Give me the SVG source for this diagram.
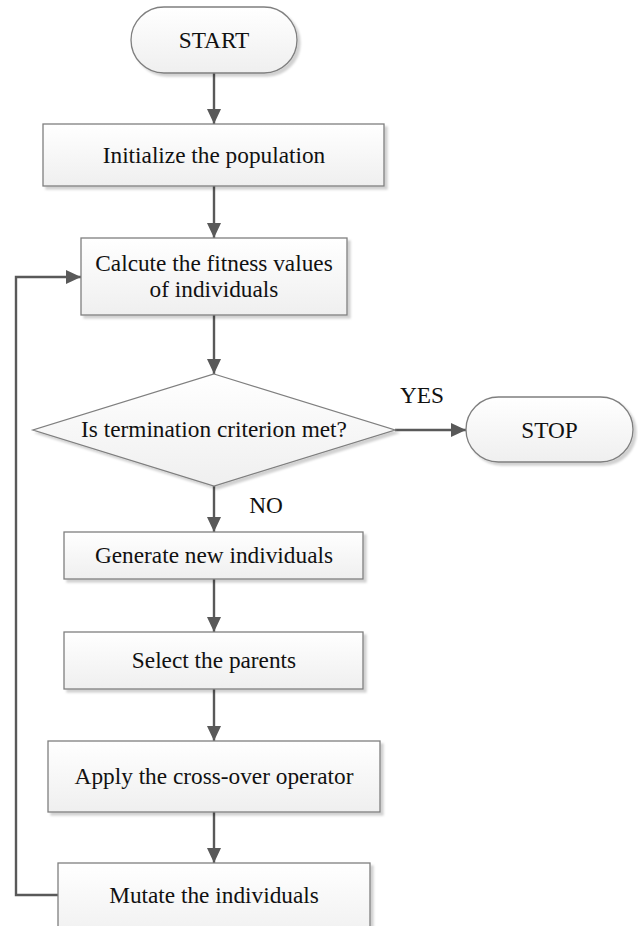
<svg xmlns="http://www.w3.org/2000/svg" width="638" height="926" viewBox="0 0 638 926">
<style>
.shape{fill:url(#g);stroke:#7f7f7f;stroke-width:1.3;filter:url(#sh)}
text{font-family:'Liberation Serif','DejaVu Serif',serif;font-size:23.3px;fill:#111;text-anchor:middle}
.c{fill:none;stroke:#595959;stroke-width:2.4}
</style>
<defs>
<linearGradient id="g" x1="0" y1="0" x2="0" y2="1">
<stop offset="0" stop-color="#ffffff"/>
<stop offset="1" stop-color="#efefef"/>
</linearGradient>
<filter id="sh" x="-10%" y="-10%" width="130%" height="140%">
<feDropShadow dx="3" dy="3" stdDeviation="1.2" flood-color="#000" flood-opacity="0.18"/>
</filter>
<marker id="ah" markerUnits="userSpaceOnUse" markerWidth="16" markerHeight="14" refX="15" refY="7" orient="auto">
<path d="M0,0 L15,7 L0,14 Z" fill="#595959"/>
</marker>
</defs>
<rect width="638" height="926" fill="#ffffff"/>
<g id="connectors">
<line class="c" x1="214" y1="73" x2="214" y2="124" marker-end="url(#ah)"/>
<line class="c" x1="214" y1="186" x2="214" y2="238" marker-end="url(#ah)"/>
<line class="c" x1="214" y1="315" x2="214" y2="374" marker-end="url(#ah)"/>
<line class="c" x1="395" y1="430" x2="466" y2="430" marker-end="url(#ah)"/>
<line class="c" x1="214" y1="486" x2="214" y2="532" marker-end="url(#ah)"/>
<line class="c" x1="214" y1="579" x2="214" y2="632" marker-end="url(#ah)"/>
<line class="c" x1="214" y1="689" x2="214" y2="741" marker-end="url(#ah)"/>
<line class="c" x1="214" y1="812" x2="214" y2="863" marker-end="url(#ah)"/>
<polyline class="c" points="58,895 16,895 16,277 81,277" marker-end="url(#ah)"/>
<text x="422" y="403" font-family="Liberation Serif, serif">YES</text>
<text x="266" y="513" font-family="Liberation Serif, serif">NO</text>
</g>
<g id="start">
<rect class="shape" x="131" y="7" width="166" height="66" rx="33"/>
<text x="214" y="48" font-family="Liberation Serif, serif">START</text>
</g>
<g id="init">
<rect class="shape" x="43" y="124" width="341" height="62"/>
<text x="214" y="163" font-family="Liberation Serif, serif">Initialize the population</text>
</g>
<g id="calc">
<rect class="shape" x="81" y="238" width="266" height="77"/>
<text x="214" y="271" font-family="Liberation Serif, serif">Calcute the fitness values</text>
<text x="214" y="297" font-family="Liberation Serif, serif">of individuals</text>
</g>
<g id="decision">
<polygon class="shape" points="214,374 395,430 214,486 33,430"/>
<text x="214" y="437" font-family="Liberation Serif, serif">Is termination criterion met?</text>
</g>
<g id="stop">
<rect class="shape" x="466" y="397" width="167" height="65" rx="32.5"/>
<text x="549.5" y="438" font-family="Liberation Serif, serif">STOP</text>
</g>
<g id="generate">
<rect class="shape" x="64" y="532" width="299" height="47"/>
<text x="214" y="563" font-family="Liberation Serif, serif">Generate new individuals</text>
</g>
<g id="select">
<rect class="shape" x="64" y="632" width="299" height="57"/>
<text x="214" y="668" font-family="Liberation Serif, serif">Select the parents</text>
</g>
<g id="apply">
<rect class="shape" x="48" y="741" width="332" height="71"/>
<text x="214" y="784" font-family="Liberation Serif, serif">Apply the cross-over operator</text>
</g>
<g id="mutate">
<rect class="shape" x="58" y="863" width="312" height="80"/>
<text x="214" y="903" font-family="Liberation Serif, serif">Mutate the individuals</text>
</g>
</svg>
